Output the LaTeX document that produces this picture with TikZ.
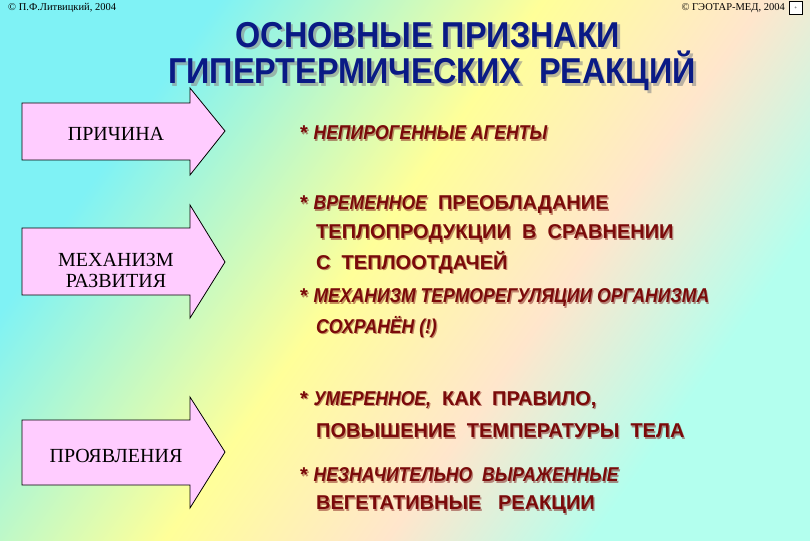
\documentclass[tikz,border=0pt]{standalone}
\usepackage{fontspec}
\setmainfont{Liberation Serif}
\newfontfamily\sans{Liberation Sans}
\newfontfamily\sansi[FakeStretch=0.88]{Liberation Sans}
\newfontfamily\titlef[FakeStretch=0.9]{Liberation Sans}
\definecolor{maroon}{HTML}{7A0A0A}
\definecolor{tblue}{HTML}{0A1A85}
\definecolor{apink}{HTML}{FFCCFF}
\definecolor{bgc}{HTML}{7FF2F5}
\definecolor{bgy}{HTML}{FFFF99}
\definecolor{bgp}{HTML}{FFE6CC}
\definecolor{bgc2}{HTML}{B3FFEE}
\pgfdeclarehorizontalshading{bgsh}{100bp}{color(0bp)=(bgc); color(28bp)=(bgc); color(47bp)=(bgy); color(60bp)=(bgp); color(72bp)=(bgc2); color(100bp)=(bgc2)}
\newcommand{\Txt}[4]{%
  \node[anchor=west,text=black!50,opacity=0.45,#4] at ([xshift=1.2pt,yshift=-1.2pt]#2) {#3};
  \node[anchor=west,#4] (#1) at (#2) {#3};}
\newcommand{\It}[1]{{\sansi\bfseries\itshape #1}}
\tikzset{
  body/.style={font=\sans\bfseries\fontsize{20}{24}\selectfont,text=maroon,inner sep=0pt},
  arr/.style={draw=black,fill=apink,line width=0.8pt},
  alab/.style={font=\fontsize{20}{21}\selectfont,align=center},
  ttl/.style={font=\titlef\bfseries\fontsize{36}{38}\selectfont,text=tblue,inner sep=0pt},
  copy/.style={font=\fontsize{10.5}{12}\selectfont,inner sep=0pt}
}
\begin{document}
\begin{tikzpicture}[x=1pt,y=-1pt]
\useasboundingbox (0,0) rectangle (810,540);
\shade[shading=bgsh, shading angle=-35] (0,0) rectangle (810,540);
% copyrights
\node[copy,anchor=west] (c1) at (8,8) {© П.Ф.Литвицкий, 2004};
\node[copy,anchor=east] (c2) at (785,8) {© ГЭОТАР-МЕД, 2004};
\node[draw,minimum size=13pt,inner sep=0pt,fill=white,font=\tiny,anchor=west] (ic) at (789,8) {+};
% title
\node[ttl,text=black!45,opacity=0.6] at (430.5,37.5) {ОСНОВНЫЕ ПРИЗНАКИ};
\node[ttl] (t1) at (428,35) {ОСНОВНЫЕ ПРИЗНАКИ};
\node[ttl,text=black!45,opacity=0.6] at (434.5,73.5) {ГИПЕРТЕРМИЧЕСКИХ\ \ РЕАКЦИЙ};
\node[ttl] (t2) at (432,71) {ГИПЕРТЕРМИЧЕСКИХ\ \ РЕАКЦИЙ};
% arrows
\draw[arr] (22,103) -- (190,103) -- (190,88) -- (225,131) -- (190,175) -- (190,160) -- (22,160) -- cycle;
\node[alab] (a1) at (116,134) {ПРИЧИНА};
\draw[arr] (22,228) -- (190,228) -- (190,205) -- (225,262) -- (190,318) -- (190,295) -- (22,295) -- cycle;
\node[alab] (a2) at (116,270) {МЕХАНИЗМ\\РАЗВИТИЯ};
\draw[arr] (22,420) -- (190,420) -- (190,397) -- (225,452) -- (190,508) -- (190,485) -- (22,485) -- cycle;
\node[alab] (a3) at (116,456) {ПРОЯВЛЕНИЯ};
% right texts
\Txt{r1}{300,133}{* \It{НЕПИРОГЕННЫЕ АГЕНТЫ}}{body}
\Txt{r2}{300,205}{* \It{ВРЕМЕННОЕ}\ \ ПРЕОБЛАДАНИЕ}{body}
\Txt{r3}{316,234}{ТЕПЛОПРОДУКЦИИ\ \ В\ \ СРАВНЕНИИ}{body}
\Txt{r4}{316,262}{С\ \ ТЕПЛООТДАЧЕЙ}{body}
\Txt{r5}{300,298}{* \It{МЕХАНИЗМ ТЕРМОРЕГУЛЯЦИИ ОРГАНИЗМА}}{body}
\Txt{r6}{316,327}{\It{СОХРАНЁН (!)}}{body}
\Txt{r7}{300,400}{* \It{УМЕРЕННОЕ,}\ \ КАК\ \ ПРАВИЛО,}{body}
\Txt{r8}{316,431}{ПОВЫШЕНИЕ\ \ ТЕМПЕРАТУРЫ\ \ ТЕЛА}{body}
\Txt{r9}{300,475}{* \It{НЕЗНАЧИТЕЛЬНО\ \ ВЫРАЖЕННЫЕ}}{body}
\Txt{r10}{316,505}{ВЕГЕТАТИВНЫЕ\ \ \ РЕАКЦИИ}{body}
\end{tikzpicture}
\end{document}
